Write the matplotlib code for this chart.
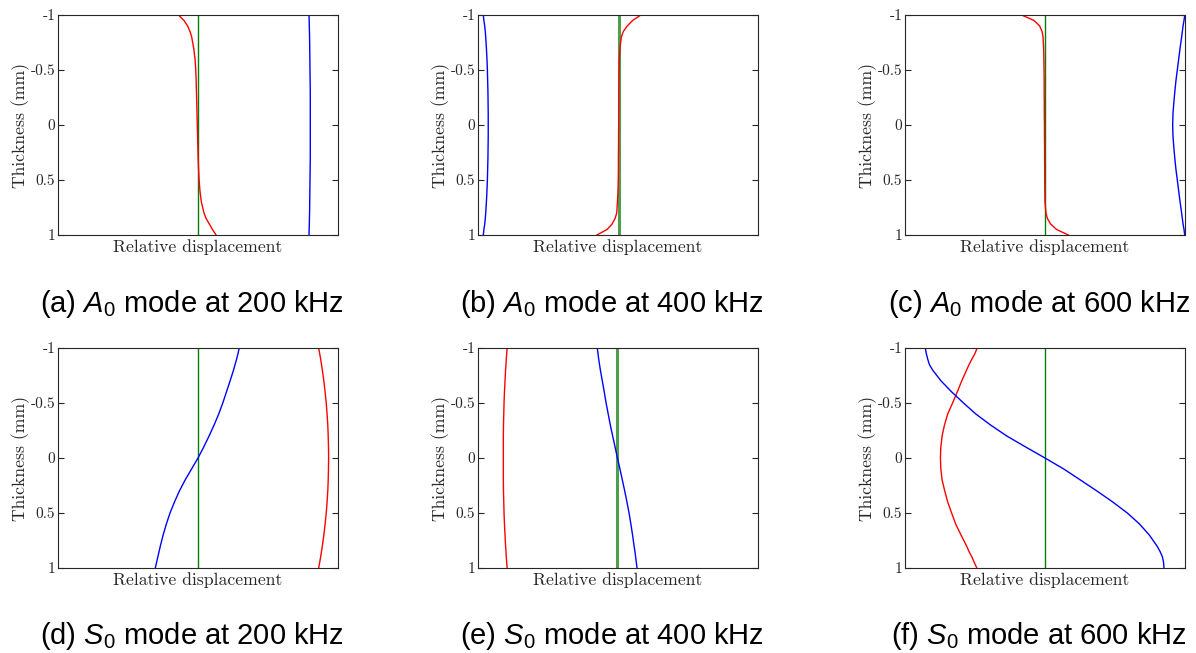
import numpy as np
import matplotlib
matplotlib.use("Agg")
import matplotlib.pyplot as plt

plt.rcParams['axes.unicode_minus'] = False
plt.rcParams['mathtext.fontset'] = 'custom'
plt.rcParams['mathtext.rm'] = 'Liberation Sans'
plt.rcParams['mathtext.it'] = 'Liberation Sans:italic'

thick = [-1, -0.95, -0.9, -0.85, -0.8, -0.7, -0.6, -0.5, -0.4, -0.3, -0.2, -0.1, 0,
         0.1, 0.2, 0.3, 0.4, 0.5, 0.6, 0.7, 0.8, 0.85, 0.9, 0.95, 1]

# (a) A0 200 kHz
a_red = [-0.140, -0.100, -0.074, -0.057, -0.045, -0.031, -0.021, -0.016, -0.013, -0.011, -0.009, -0.007, -0.005,
         -0.003, -0.001, 0.001, 0.004, 0.008, 0.014, 0.024, 0.043, 0.058, 0.081, 0.103, 0.129]
a_blue = [0.793, 0.794, 0.795, 0.796, 0.797, 0.798, 0.799, 0.800, 0.801, 0.802, 0.802, 0.802, 0.802,
          0.802, 0.802, 0.802, 0.801, 0.800, 0.799, 0.798, 0.797, 0.796, 0.795, 0.794, 0.793]
# (b) A0 400 kHz
b_red = [0.163, 0.104, 0.066, 0.038, 0.024, 0.014, 0.010, 0.008, 0.007, 0.006, 0.006, 0.005, 0.005,
         0.004, 0.004, 0.003, 0.003, 0.002, 0.000, -0.004, -0.009, -0.021, -0.042, -0.078, -0.151]
b_blue = [-0.962, -0.958, -0.952, -0.948, -0.945, -0.940, -0.936, -0.933, -0.931, -0.929, -0.928, -0.927, -0.927,
          -0.927, -0.928, -0.929, -0.931, -0.933, -0.936, -0.940, -0.945, -0.948, -0.952, -0.958, -0.962]
# (c) A0 600 kHz
c_red = [-0.167, -0.078, -0.038, -0.021, -0.014, -0.010, -0.008, -0.007, -0.006, -0.006, -0.005, -0.005, -0.004,
         -0.004, -0.003, -0.003, -0.002, -0.002, -0.001, 0.000, 0.007, 0.017, 0.040, 0.083, 0.167]
c_blue = [0.998, 0.993, 0.986, 0.981, 0.976, 0.965, 0.955, 0.945, 0.935, 0.927, 0.920, 0.914, 0.912,
          0.914, 0.920, 0.927, 0.935, 0.945, 0.955, 0.965, 0.976, 0.981, 0.986, 0.993, 0.998]
# (d) S0 200 kHz
d_red = [0.862, 0.869, 0.876, 0.882, 0.888, 0.899, 0.908, 0.916, 0.922, 0.927, 0.930, 0.932, 0.933,
         0.932, 0.930, 0.927, 0.922, 0.916, 0.908, 0.899, 0.888, 0.882, 0.876, 0.869, 0.862]
d_blue = [0.294, 0.286, 0.276, 0.265, 0.254, 0.229, 0.203, 0.177, 0.148, 0.115, 0.079, 0.041, 0.000,
          -0.046, -0.092, -0.133, -0.168, -0.200, -0.226, -0.249, -0.269, -0.278, -0.287, -0.296, -0.305]
# (e) S0 400 kHz
e_red = [-0.792, -0.795, -0.798, -0.800, -0.803, -0.807, -0.811, -0.814, -0.816, -0.818, -0.819, -0.819, -0.819,
         -0.819, -0.819, -0.818, -0.816, -0.814, -0.811, -0.807, -0.803, -0.800, -0.798, -0.795, -0.792]
e_blue = [-0.148, -0.143, -0.138, -0.132, -0.126, -0.112, -0.098, -0.085, -0.070, -0.055, -0.038, -0.021, -0.004,
          0.014, 0.031, 0.048, 0.064, 0.079, 0.092, 0.104, 0.115, 0.121, 0.126, 0.131, 0.136]
# (f) S0 600 kHz
f_red = [-0.485, -0.500, -0.522, -0.542, -0.560, -0.595, -0.627, -0.660, -0.695, -0.718, -0.735, -0.744, -0.747,
         -0.744, -0.735, -0.716, -0.695, -0.667, -0.638, -0.600, -0.560, -0.543, -0.522, -0.505, -0.487]
f_blue = [-0.855, -0.848, -0.838, -0.826, -0.803, -0.742, -0.666, -0.582, -0.494, -0.389, -0.273, -0.138, 0.000,
          0.134, 0.253, 0.371, 0.484, 0.588, 0.675, 0.745, 0.800, 0.822, 0.839, 0.847, 0.850]

reds = [a_red, b_red, c_red, d_red, e_red, f_red]
blues = [a_blue, b_blue, c_blue, d_blue, e_blue, f_blue]
green_x = [0.0, 0.007, -0.002, -0.002, -0.005, 0.0]
green_lw = [1.0, 2.2, 1.0, 1.0, 2.2, 1.0]
green_col = [(0, 0.5, 0), (0.3, 0.62, 0.3), (0, 0.5, 0), (0, 0.5, 0), (0.3, 0.62, 0.3), (0, 0.5, 0)]

captions = [r"(a) $A_0$ mode at 200 kHz", r"(b) $A_0$ mode at 400 kHz", r"(c) $A_0$ mode at 600 kHz",
            r"(d) $S_0$ mode at 200 kHz", r"(e) $S_0$ mode at 400 kHz", r"(f) $S_0$ mode at 600 kHz"]
yticks = [-1, -0.5, 0, 0.5, 1]
ytick_labels = ['-1', '-0.5', '0', '0.5', '1']

W, H = 1196, 653
fig = plt.figure(figsize=(W / 100, H / 100), dpi=100)

lefts = [58, 478, 905]
tops = [15, 348]
aw, ah = 280, 220

for i in range(6):
    r, c = divmod(i, 3)
    ax = fig.add_axes([lefts[c] / W, 1 - (tops[r] + ah) / H, aw / W, ah / H])
    ax.axvline(green_x[i], color=green_col[i], lw=green_lw[i])
    ax.plot(reds[i], thick, color='red', lw=1.0)
    ax.plot(blues[i], thick, color='blue', lw=1.0)
    ax.set_xlim(-1, 1)
    ax.set_ylim(1, -1)
    ax.set_xticks([])
    ax.set_yticks(yticks)
    ax.set_yticklabels(ytick_labels, fontfamily='cmr10', fontsize=11)
    ax.tick_params(axis='y', direction='in', length=4, width=0.8, right=True, pad=2,
                   color='0.15', labelcolor='0.15')
    for s in ax.spines.values():
        s.set_color('0.15')
        s.set_linewidth(0.8)
    ax.set_xlabel('Relative displacement', fontfamily='cmr10', fontsize=12.7, labelpad=3, color='0.15')
    ax.set_ylabel('Thickness (mm)', fontfamily='cmr10', fontsize=12.7, labelpad=0.5, color='0.15')
    cx = (lefts[c] + aw / 2 - 6) / W
    cy = 1 - [304, 636][r] / H
    fig.text(cx, cy, captions[i], ha='center', va='center', fontsize=21, fontfamily='Liberation Sans')

plt.savefig('out.png', dpi=100)
